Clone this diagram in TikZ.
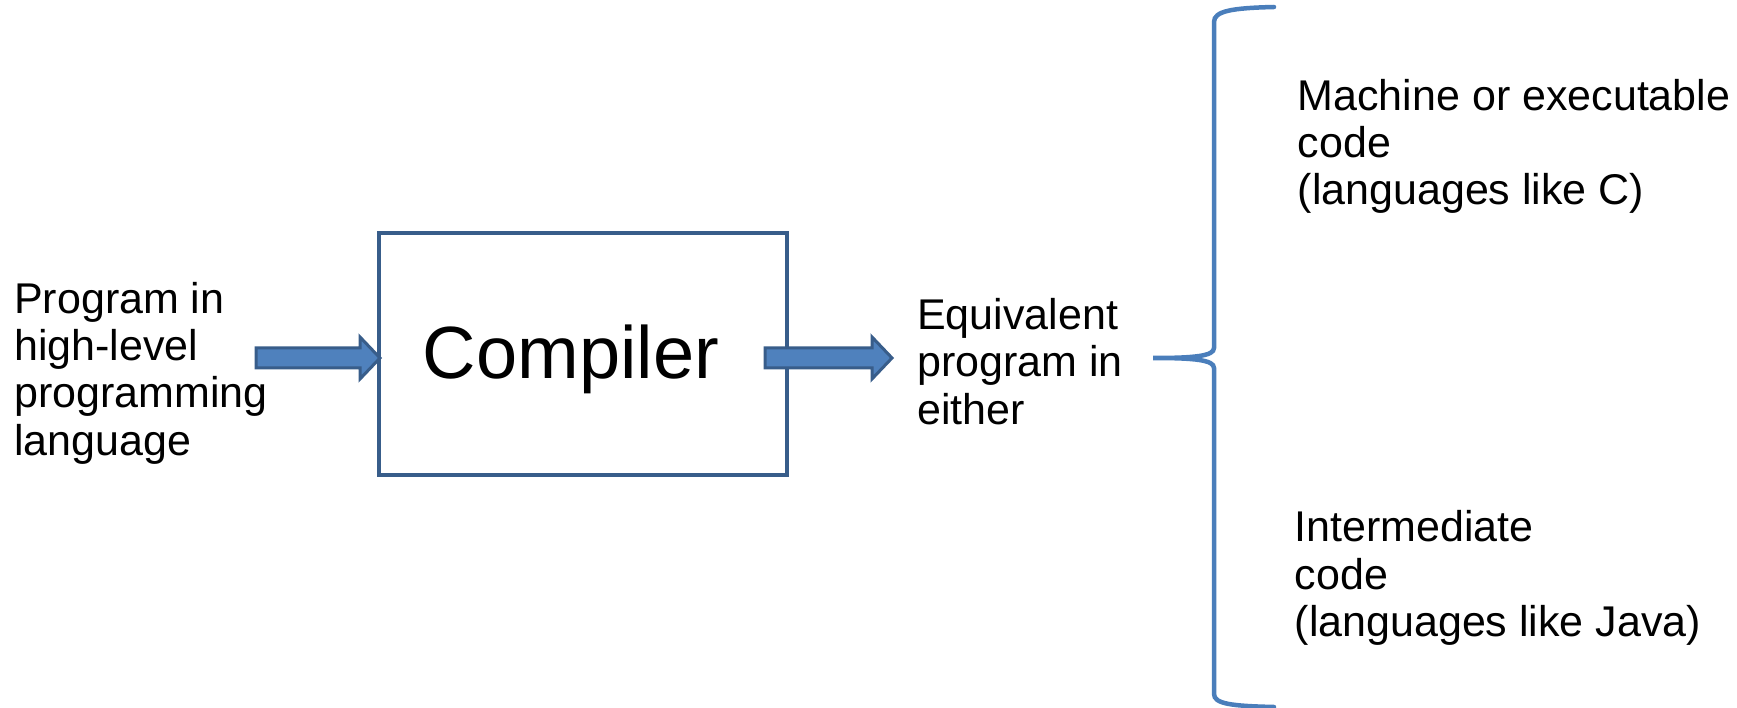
\documentclass[tikz,border=0pt]{standalone}
\usepackage{fontspec}
\setmainfont{Liberation Sans}
\usetikzlibrary{calc}
\definecolor{boxblue}{HTML}{385D8A}
\definecolor{fillblue}{HTML}{4F81BD}
\definecolor{braceblue}{HTML}{4A7EBB}
\tikzset{
  txt/.style={inner sep=0pt, align=left, anchor=base west, font=\fontsize{43}{47.3}\selectfont},
  procbox/.style={draw=boxblue, line width=4pt, minimum width=408pt, minimum height=242pt, inner sep=0pt},
  fatarrow/.style={draw=boxblue, fill=fillblue, line width=3pt, line join=miter},
  bracestyle/.style={draw=braceblue, line width=4.5pt, line cap=round},
}
\begin{document}
\begin{tikzpicture}[x=1pt,y=-1pt]
\useasboundingbox (0,0) rectangle (1737,708);
\node[procbox] (box) at (583,354) {};
\node[font=\fontsize{74}{80}\selectfont, inner sep=0pt, anchor=base] (clabel) at (571,378) {Compiler};
% anchor base = baseline of the last line
\node[txt] (src) at (14,455) {Program in\\high-level\\programming\\language};
\node[txt] (eq) at (917,424) {Equivalent\\program in\\either};
\node[txt] (mach) at (1297.5,205) {Machine or executable\\code\\(languages like C)};
\node[txt] (inter) at (1294.5,636.5) {Intermediate\\code\\(languages like Java)};
\coordinate (a1tip) at ($(box.west)+(3,4)$);
\coordinate (a2tip) at ($(box.east)+(103,4)$);
\draw[fatarrow] ($(a1tip)+(-124,-10)$) -- ($(a1tip)+(-20,-10)$) -- ($(a1tip)+(-20,-21)$) -- (a1tip) -- ($(a1tip)+(-20,21)$) -- ($(a1tip)+(-20,10)$) -- ($(a1tip)+(-124,10)$) -- cycle;
\draw[fatarrow] ($(a2tip)+(-127,-10)$) -- ($(a2tip)+(-20,-10)$) -- ($(a2tip)+(-20,-21)$) -- (a2tip) -- ($(a2tip)+(-20,21)$) -- ($(a2tip)+(-20,10)$) -- ($(a2tip)+(-127,10)$) -- cycle;
\draw[bracestyle] (1274,7) .. controls (1232,8) and (1214,11) .. (1214,22) -- (1214,348) .. controls (1214,356) and (1195,358) .. (1153,358) .. controls (1195,358) and (1214,360) .. (1214,368) -- (1214,694) .. controls (1214,704) and (1232,706) .. (1274,707);
\end{tikzpicture}
\end{document}
